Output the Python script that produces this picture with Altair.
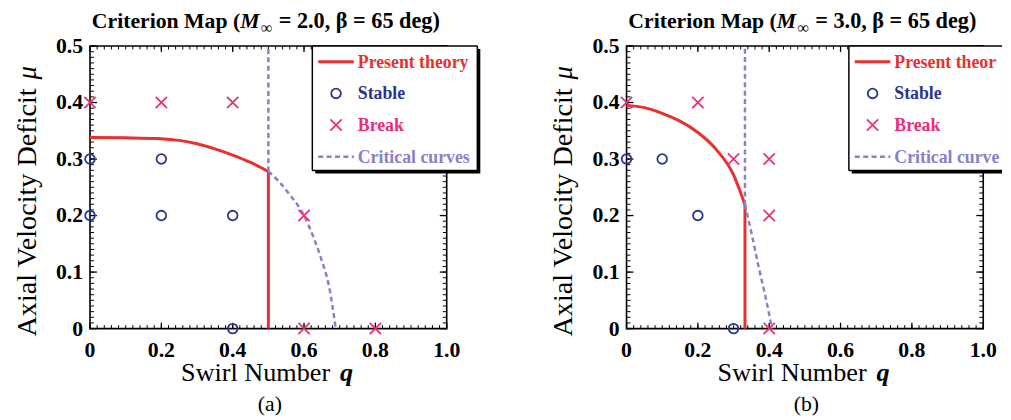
import altair as alt
import pandas as pd

W, H = 361, 286
FONT = "Liberation Serif"
RED = "#e8302c"
NAVY = "#2b3590"
PINK = "#e8307a"
PURPLE = "#8a80c4"

# ---------------- data ----------------
x_label_vals = [0, 0.2, 0.4, 0.6, 0.8, 1.0]
x_label_text = ["0", "0.2", "0.4", "0.6", "0.8", "1.0"]
y_label_vals = [0, 0.1, 0.2, 0.3, 0.4, 0.5]
y_label_text = ["0", "0.1", "0.2", "0.3", "0.4", "0.5"]
x_minor = [round(i * 0.02, 2) for i in range(51)]
y_minor = [round(i * 0.01, 2) for i in range(51)]

# panel (a)  M=2.0
a_curve_q = [0, 0.1, 0.2, 0.25, 0.3, 0.35, 0.4, 0.45, 0.5]
a_curve_mu = [0.338, 0.3375, 0.336, 0.333, 0.327, 0.318, 0.307, 0.294, 0.278]
a_crit_q = [0.5, 0.53, 0.56, 0.6, 0.63, 0.65, 0.67, 0.689]
a_crit_mu = [0.278, 0.260, 0.237, 0.200, 0.156, 0.120, 0.075, 0.0]
a_limit_q = 0.5
a_stable_q = [0, 0, 0.2, 0.2, 0.4, 0.4]
a_stable_mu = [0.3, 0.2, 0.3, 0.2, 0.2, 0.0]
a_break_q = [0, 0.2, 0.4, 0.6, 0.6, 0.8]
a_break_mu = [0.4, 0.4, 0.4, 0.2, 0.0, 0.0]

# panel (b)  M=3.0
b_curve_q = [0, 0.05, 0.1, 0.15, 0.2, 0.25, 0.3, 0.332]
b_curve_mu = [0.395, 0.391, 0.381, 0.367, 0.347, 0.318, 0.272, 0.219]
b_crit_q = [0.332, 0.35, 0.37, 0.39, 0.408]
b_crit_mu = [0.219, 0.17, 0.11, 0.055, 0.0]
b_limit_q = 0.332
b_stable_q = [0, 0.1, 0.2, 0.3]
b_stable_mu = [0.3, 0.3, 0.2, 0.0]
b_break_q = [0, 0.2, 0.3, 0.4, 0.4, 0.4]
b_break_mu = [0.4, 0.4, 0.3, 0.3, 0.2, 0.0]

legend_labels = ["Present theory", "Stable", "Break", "Critical curves"]
CROSS = "M-1,-1L1,1M-1,1L1,-1"

XS = alt.Scale(domain=[0, 1], nice=False, zero=False)
YS = alt.Scale(domain=[0, 0.5], nice=False, zero=False)


def xq(f):
    return alt.X(f"{f}:Q", scale=XS, axis=None)


def ym(f):
    return alt.Y(f"{f}:Q", scale=YS, axis=None)


def one():
    return alt.Chart(pd.DataFrame({"d": [0]}))


def text(t, x, y, size=22, weight="normal", style="normal", color="black",
         align="left", angle=0, limit=0):
    kw = dict(text=t, font=FONT, fontSize=size, fontWeight=weight,
              fontStyle=style, color=color, align=align, baseline="alphabetic")
    if angle:
        kw["angle"] = angle
    if limit:
        kw["limit"] = limit
        kw["ellipsis"] = "\u200b"
    return one().mark_text(**kw).encode(x=alt.value(x), y=alt.value(y))


def hline(x1, x2, y, color="black", width=1.5, dash=None):
    kw = dict(color=color, strokeWidth=width)
    if dash:
        kw["strokeDash"] = dash
    return one().mark_rule(**kw).encode(x=alt.value(x1), x2=alt.value(x2), y=alt.value(y))


def vline(x, y1, y2, color="black", width=1.5):
    return one().mark_rule(color=color, strokeWidth=width).encode(x=alt.value(x), y=alt.value(y1), y2=alt.value(y2))


def panel(mach, curve_q, curve_mu, crit_q, crit_mu, limit_q,
          st_q, st_mu, br_q, br_mu, caption, box_right, shadow_right, text_limit, right_edge):
    xmaj = pd.DataFrame({"t": x_label_vals, "s": x_label_text})
    xmin = pd.DataFrame({"t": x_minor})
    ymaj = pd.DataFrame({"t": y_label_vals, "s": y_label_text})
    ymin = pd.DataFrame({"t": y_minor})
    frame = one().mark_rect(fill=None, stroke="black", strokeWidth=1.6).encode(
        x=alt.value(0), x2=alt.value(W), y=alt.value(0), y2=alt.value(H))
    tick_layers = [
        alt.Chart(xmaj).mark_rule(color="black", strokeWidth=1.3).encode(x=xq("t"), y=alt.value(H), y2=alt.value(H - 6)),
        alt.Chart(xmaj).mark_rule(color="black", strokeWidth=1.3).encode(x=xq("t"), y=alt.value(0), y2=alt.value(6)),
        alt.Chart(xmin).mark_rule(color="black", strokeWidth=1).encode(x=xq("t"), y=alt.value(H), y2=alt.value(H - 3.5)),
        alt.Chart(xmin).mark_rule(color="black", strokeWidth=1).encode(x=xq("t"), y=alt.value(0), y2=alt.value(3.5)),
        alt.Chart(ymaj).mark_rule(color="black", strokeWidth=1.3).encode(y=ym("t"), x=alt.value(0), x2=alt.value(7)),
        alt.Chart(ymaj).mark_rule(color="black", strokeWidth=1.3).encode(y=ym("t"), x=alt.value(W), x2=alt.value(W - 7)),
        alt.Chart(ymin).mark_rule(color="black", strokeWidth=1).encode(y=ym("t"), x=alt.value(0), x2=alt.value(4)),
        alt.Chart(ymin).mark_rule(color="black", strokeWidth=1).encode(y=ym("t"), x=alt.value(W), x2=alt.value(W - 4)),
        frame,
        alt.Chart(xmaj).mark_text(font=FONT, fontSize=22, fontWeight="bold", color="black",
                                  align="center", baseline="alphabetic").encode(
            x=xq("t"), y=alt.value(H + 29), text="s:N"),
        alt.Chart(ymaj).mark_text(font=FONT, fontSize=22, fontWeight="bold", color="black",
                                  align="right", baseline="alphabetic", dy=7).encode(
            y=ym("t"), x=alt.value(-7), text="s:N"),
    ]

    curve = alt.Chart(pd.DataFrame({"q": curve_q, "mu": curve_mu})).mark_line(
        color=RED, strokeWidth=3, interpolate="monotone").encode(x=xq("q"), y=ym("mu"))
    red_v = alt.Chart(pd.DataFrame({"q": [limit_q], "a": [0.0], "b": [curve_mu[-1]]})).mark_rule(
        color=RED, strokeWidth=3).encode(x=xq("q"), y=ym("a"), y2="b:Q")
    crit = alt.Chart(pd.DataFrame({"q": crit_q, "mu": crit_mu})).mark_line(
        color=PURPLE, strokeWidth=2.5, strokeDash=[5, 3.5], interpolate="monotone").encode(x=xq("q"), y=ym("mu"))
    crit_v = alt.Chart(pd.DataFrame({"q": [limit_q], "a": [curve_mu[-1]], "b": [0.5]})).mark_rule(
        color=PURPLE, strokeWidth=2.5, strokeDash=[5, 3.5]).encode(x=xq("q"), y=ym("a"), y2="b:Q")
    stable = alt.Chart(pd.DataFrame({"q": st_q, "mu": st_mu})).mark_point(
        shape="circle", size=95, filled=False, color=NAVY, strokeWidth=1.8, opacity=1).encode(x=xq("q"), y=ym("mu"))
    brk = alt.Chart(pd.DataFrame({"q": br_q, "mu": br_mu})).mark_point(
        shape=CROSS, size=130, filled=False, color=PINK, strokeWidth=1.8, opacity=1).encode(x=xq("q"), y=ym("mu"))

    # legend (drawn)
    L = 225
    B = 126
    shadow = one().mark_rect(color="black").encode(
        x=alt.value(L + 3), x2=alt.value(shadow_right), y=alt.value(3), y2=alt.value(B + 3))
    box = one().mark_rect(fill="white").encode(
        x=alt.value(L), x2=alt.value(box_right), y=alt.value(0), y2=alt.value(B))
    edges = [hline(L, box_right, 0), hline(L, box_right, B), vline(L, 0, B)]
    if right_edge:
        edges.append(vline(box_right, 0, B))
    leg_line = hline(231, 267, 16, RED, 3)
    leg_dash = hline(231, 267, 112, PURPLE, 2.5, [5, 3.5])
    leg_circ = one().mark_point(shape="circle", size=95, filled=False, color=NAVY, strokeWidth=1.8, opacity=1).encode(
        x=alt.value(249), y=alt.value(48))
    leg_cross = one().mark_point(shape=CROSS, size=130, filled=False, color=PINK, strokeWidth=1.8, opacity=1).encode(
        x=alt.value(249), y=alt.value(80))
    leg_texts = [
        text(legend_labels[0], 271, 22, 18, "bold", color=RED, limit=text_limit),
        text(legend_labels[1], 271, 54, 18, "bold", color=NAVY, limit=text_limit),
        text(legend_labels[2], 271, 86, 18, "bold", color=PINK, limit=text_limit),
        text(legend_labels[3], 271, 118, 18, "bold", color=PURPLE, limit=text_limit),
    ]

    # titles
    titles = [
        text("Criterion Map (", 152, -18, 22, "bold", align="right"),
        text("M", 152, -18, 22, "bold", "italic"),
        text("\u221e", 173, -13, 16, "bold"),
        text("= " + mach + ", \u03b2 = 65 deg)", 191, -18, 22.5, "bold"),
        text("Swirl Number", 243, 339, 26.5, align="right"),
        text("q", 253, 339, 26.5, "bold", "italic"),
        text("Axial Velocity Deficit", -55, 294, 28.5, angle=270),
        text("\u03bc", -55, 34, 27, style="italic", angle=270),
        text(caption, 182, 369, 22, align="center"),
    ]

    layers = tick_layers + [curve, red_v, crit, crit_v, stable, brk,
                            shadow, box] + edges + [leg_line, leg_dash, leg_circ, leg_cross] + leg_texts + titles
    return alt.layer(*layers).properties(width=W, height=H)


pa = panel("2.0", a_curve_q, a_curve_mu, a_crit_q, a_crit_mu, a_limit_q,
           a_stable_q, a_stable_mu, a_break_q, a_break_mu, "(a)", 392, 395, 0, True)
pb = panel("3.0", b_curve_q, b_curve_mu, b_crit_q, b_crit_mu, b_limit_q,
           b_stable_q, b_stable_mu, b_break_q, b_break_mu, "(b)", 380, 380, 110, False)

chart = alt.hconcat(pa, pb, spacing=182, bounds="flush").properties(
    padding={"left": 4, "top": 0, "right": 0, "bottom": 0},
    background="white",
).configure_view(stroke=None)

chart.save("out.html", embed_options={"renderer": "svg", "actions": False})
